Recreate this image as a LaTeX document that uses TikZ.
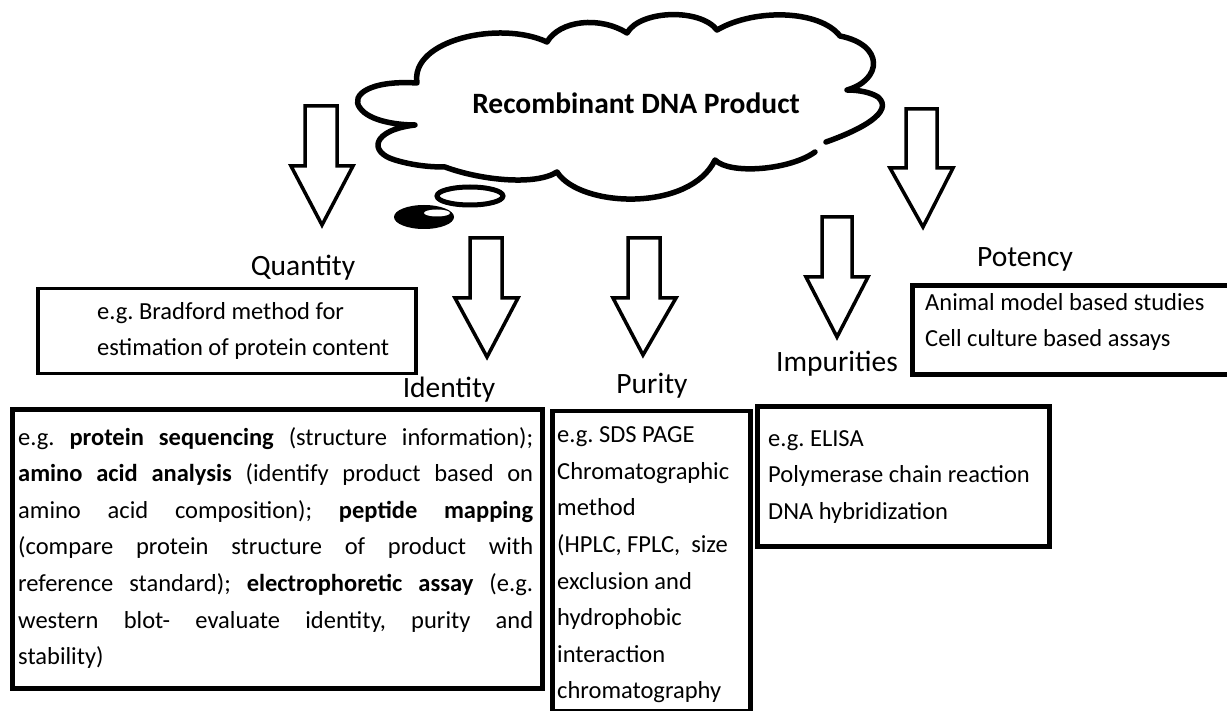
\documentclass[tikz,border=0pt]{standalone}
\usepackage{fontspec}
\setmainfont{Carlito}
\frenchspacing
\begin{document}
\begin{tikzpicture}[x=1pt,y=-1pt,
  cloudline/.style={line width=5.5pt, line join=round, line cap=round},
  blockarrow/.style={draw, line width=3.5pt, fill=white, line join=miter},
  framebox/.style={draw, line width=4.5pt, rectangle, inner sep=0pt, anchor=north west},
  heading/.style={font=\fontsize{29.5}{35}\selectfont, anchor=base, inner sep=0pt},
  bodytext/.style={font=\fontsize{24.5}{36.6}\selectfont, align=left, anchor=west, inner sep=0pt}]
\useasboundingbox (0,0) rectangle (1227,711);

% cloud
\draw[cloudline, fill=white]
  (826,142) .. controls (860,130) and (895,112) .. (878,97)
  .. controls (870,92) and (858,90) .. (847,90)
  .. controls (882,80) and (885,45) .. (840,36)
  .. controls (820,10) and (755,8) .. (717,30)
  .. controls (700,8) and (640,10) .. (627,33)
  .. controls (600,16) and (560,20) .. (547,42)
  .. controls (500,20) and (410,40) .. (417,83)
  .. controls (370,80) and (350,95) .. (360,108)
  .. controls (370,122) and (400,125) .. (415,125)
  .. controls (372,130) and (368,152) .. (395,160)
  .. controls (415,166) and (432,167) .. (445,167)
  .. controls (480,180) and (535,186) .. (557,172)
  .. controls (580,208) and (690,212) .. (715,160)
  .. controls (730,175) and (790,170) .. (815,152);
\draw[line width=5pt, fill=white] (470,196) ellipse [x radius=33, y radius=9];
\fill (424,217) ellipse [x radius=30, y radius=12];
\fill[white] (437,213) ellipse [x radius=13, y radius=3.5];
\node[font=\fontsize{29.5}{35}\selectfont\bfseries, inner sep=0pt] (title) at (636,103) {Recombinant DNA Product};

% block arrows
\draw[blockarrow] (305,106) -- (337,106) -- (337,166) -- (353,166) -- (322,225) -- (291,166) -- (305,166) -- cycle;
\draw[blockarrow] (470,238) -- (502,238) -- (502,298) -- (518,298) -- (487,357) -- (455,298) -- (470,298) -- cycle;
\draw[blockarrow] (628,238) -- (660,238) -- (660,298) -- (676,298) -- (643,355) -- (613,298) -- (628,298) -- cycle;
\draw[blockarrow] (906,109) -- (937,109) -- (937,168) -- (953,168) -- (923,227) -- (890,168) -- (906,168) -- cycle;
\draw[blockarrow] (822,217) -- (852,217) -- (852,277) -- (868,277) -- (837,337) -- (806,277) -- (822,277) -- cycle;

% headings
\node[heading] (quantity) at (303,276) {Quantity};
\node[heading] (identity) at (449,398) {Identity};
\node[heading] (purity) at (652,394) {Purity};
\node[heading] (impurities) at (837,372) {Impurities};
\node[heading] (potency) at (1025,267) {Potency};

% boxes
\node[framebox, minimum width=378pt, minimum height=85pt, line width=3.5pt] (qbox) at (36,287) {};
\node[framebox, minimum width=530pt, minimum height=279pt, line width=5pt] (idbox) at (10,407) {};
\node[framebox, minimum width=198pt, minimum height=300pt] (pbox) at (550,409) {};
\node[framebox, minimum width=292pt, minimum height=140pt, line width=5pt] (ibox) at (755,404) {};
\node[framebox, minimum width=340pt, minimum height=89pt, line width=5pt] (pobox) at (910,283) {};

% box texts
\node[bodytext] (qtext) at (97,331) {e.g. Bradford method for\\estimation of protein content};
\node[bodytext] (idtext) at (18,548) {%
\makebox[515pt][s]{e.g. \textbf{protein sequencing} (structure information);}\\
\makebox[515pt][s]{\textbf{amino acid analysis} (identify product based on}\\
\makebox[515pt][s]{amino acid composition); \textbf{peptide mapping}}\\
\makebox[515pt][s]{(compare protein structure of product with}\\
\makebox[515pt][s]{reference standard); \textbf{electrophoretic assay} (e.g.}\\
\makebox[515pt][s]{western blot- evaluate identity, purity and}\\
stability)};
\node[bodytext] (ptext) at (557,565) {e.g. SDS PAGE\\Chromatographic\\method\\(HPLC, FPLC,\ \ size\\exclusion and\\hydrophobic\\interaction\\chromatography};
\node[bodytext] (itext) at (768,477) {e.g. ELISA\\Polymerase chain reaction\\DNA hybridization};
\node[bodytext] (potext) at (925,322) {Animal model based studies\\Cell culture based assays};
\end{tikzpicture}
\end{document}
